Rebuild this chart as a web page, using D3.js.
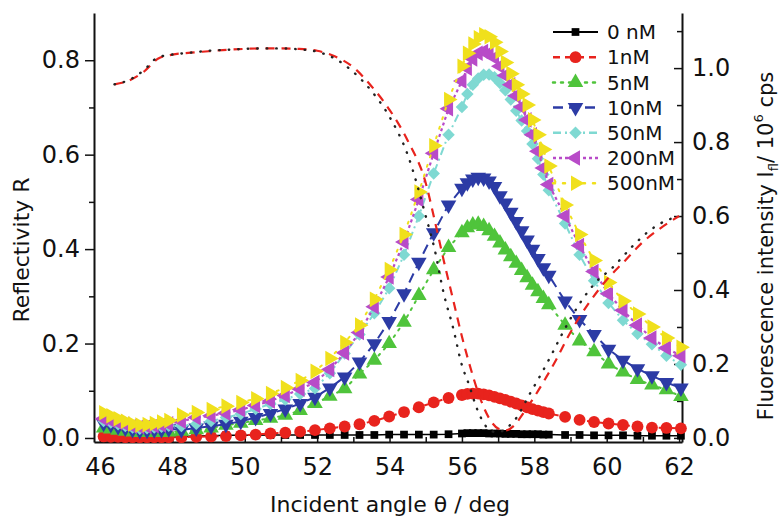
<!DOCTYPE html>
<html>
<head>
<meta charset="utf-8">
<script src="https://cdn.jsdelivr.net/npm/d3@7"></script>
<style>
  body { margin: 0; background: #fff; }
  text { font-family: "DejaVu Sans", "Liberation Sans", Arial, sans-serif; fill: #111; }
</style>
</head>
<body>
<svg id="chart" width="781" height="520"></svg>
<script>
// incident angles of the fluorescence scan (deg)
const angle = [46.1, 46.3, 46.5, 46.7, 46.9, 47.1, 47.3, 47.5, 47.7, 47.9,
  48.25, 48.66, 49.07, 49.48, 49.89, 50.30, 50.71, 51.12, 51.53, 51.94, 52.35, 52.76, 53.17, 53.58, 53.99, 54.40, 54.81, 55.22, 55.63,
  56.0, 56.15, 56.3, 56.45, 56.6, 56.75, 56.9, 57.05, 57.2, 57.35, 57.5, 57.65, 57.8, 57.95, 58.1, 58.25, 58.4,
  58.85, 59.25, 59.65, 60.05, 60.45, 60.85, 61.25, 61.65, 62.05];

// fluorescence intensity, 10^6 cps (right axis)
const fl0nM = [0.001, 0.001, 0.001, 0.001, 0.001, 0.001, 0.001, 0.001, 0.001, 0.001,
  0.004, 0.005, 0.006, 0.007, 0.007, 0.007, 0.008, 0.008, 0.008, 0.008, 0.008, 0.008, 0.008, 0.008, 0.009, 0.009, 0.009, 0.009, 0.01,
  0.012, 0.013, 0.013, 0.013, 0.013, 0.012, 0.012, 0.012, 0.011, 0.011, 0.011, 0.01, 0.01, 0.01, 0.01, 0.009, 0.009,
  0.008, 0.008, 0.007, 0.007, 0.007, 0.006, 0.006, 0.006, 0.006];
const fl1nM = [0.004, 0.003, 0.003, 0.002, 0.002, 0.002, 0.002, 0.002, 0.002, 0.002,
  0.002, 0.003, 0.004, 0.005, 0.007, 0.009, 0.012, 0.014, 0.017, 0.021, 0.026, 0.031, 0.037, 0.046, 0.058, 0.07, 0.083, 0.096, 0.108,
  0.116, 0.119, 0.12, 0.12, 0.118, 0.115, 0.111, 0.107, 0.103, 0.098, 0.093, 0.088, 0.083, 0.078, 0.074, 0.07, 0.066,
  0.057, 0.049, 0.043, 0.039, 0.035, 0.031, 0.028, 0.027, 0.026];
const fl5nM = [0.027, 0.024, 0.021, 0.018, 0.016, 0.015, 0.015, 0.015, 0.015, 0.016,
  0.018, 0.022, 0.027, 0.034, 0.04, 0.047, 0.053, 0.061, 0.074, 0.093, 0.113, 0.133, 0.173, 0.21, 0.255, 0.313, 0.385, 0.455, 0.515,
  0.555, 0.568, 0.576, 0.578, 0.572, 0.56, 0.545, 0.527, 0.508, 0.49, 0.472, 0.453, 0.433, 0.413, 0.395, 0.377, 0.36,
  0.305, 0.262, 0.233, 0.2, 0.178, 0.158, 0.143, 0.13, 0.112];
const fl10nM = [0.04, 0.036, 0.031, 0.027, 0.023, 0.02, 0.021, 0.022, 0.023, 0.025,
  0.022, 0.027, 0.032, 0.037, 0.045, 0.055, 0.066, 0.078, 0.093, 0.11, 0.135, 0.165, 0.205, 0.255, 0.315, 0.39, 0.475, 0.555, 0.63,
  0.675, 0.69, 0.70, 0.705, 0.703, 0.695, 0.68, 0.655, 0.635, 0.61, 0.585, 0.56, 0.535, 0.51, 0.485, 0.46, 0.44,
  0.37, 0.32, 0.28, 0.24, 0.21, 0.187, 0.168, 0.15, 0.135];
const fl50nM = [0.046, 0.042, 0.037, 0.032, 0.028, 0.025, 0.026, 0.028, 0.03, 0.033,
  0.032, 0.038, 0.046, 0.055, 0.065, 0.078, 0.092, 0.104, 0.119, 0.134, 0.175, 0.228, 0.28, 0.337, 0.405, 0.495, 0.6, 0.715, 0.82,
  0.895, 0.93, 0.955, 0.972, 0.982, 0.983, 0.975, 0.96, 0.94, 0.915, 0.885, 0.858, 0.83, 0.795, 0.755, 0.712, 0.67,
  0.58, 0.495, 0.425, 0.365, 0.318, 0.282, 0.253, 0.222, 0.198];
const fl200nM = [0.052, 0.047, 0.042, 0.037, 0.032, 0.03, 0.031, 0.033, 0.035, 0.038,
  0.045, 0.055, 0.06, 0.067, 0.076, 0.088, 0.1, 0.115, 0.132, 0.15, 0.185, 0.23, 0.285, 0.355, 0.435, 0.53, 0.645, 0.77, 0.89,
  0.965, 1.0, 1.025, 1.04, 1.045, 1.04, 1.028, 1.005, 0.98, 0.955, 0.925, 0.895, 0.86, 0.82, 0.775, 0.73, 0.685,
  0.6, 0.52, 0.45, 0.39, 0.345, 0.305, 0.27, 0.243, 0.222];
const fl500nM = [0.068, 0.06, 0.052, 0.045, 0.038, 0.035, 0.036, 0.039, 0.043, 0.047,
  0.062, 0.069, 0.077, 0.086, 0.096, 0.106, 0.12, 0.136, 0.155, 0.18, 0.215, 0.258, 0.305, 0.375, 0.455, 0.55, 0.665, 0.79, 0.915,
  1.005, 1.04, 1.065, 1.082, 1.09, 1.085, 1.07, 1.045, 1.015, 0.985, 0.955, 0.93, 0.9, 0.86, 0.82, 0.78, 0.735,
  0.63, 0.55, 0.48, 0.42, 0.37, 0.335, 0.30, 0.27, 0.245];

// reflectivity curves (left axis)
const reflAngleRed = [46.4, 46.8, 47.2, 47.6, 48.0, 48.5, 49.0, 49.5, 50.0, 50.5, 51.0, 51.5, 52.0, 52.5, 53.0, 53.5, 54.0, 54.5, 55.0, 55.25,
  55.5, 55.75, 56.0, 56.25, 56.5, 56.75, 57.0, 57.2, 57.45, 57.7, 58.0, 58.3, 58.6, 58.9, 59.2, 59.5, 60.0, 60.5, 61.0, 61.5, 62.0];
const reflRed = [0.749, 0.757, 0.775, 0.803, 0.812, 0.816, 0.819, 0.822, 0.824, 0.825, 0.825, 0.824, 0.82, 0.808, 0.785, 0.745, 0.695, 0.63, 0.54, 0.46,
  0.375, 0.295, 0.215, 0.145, 0.085, 0.042, 0.02, 0.016, 0.027, 0.053, 0.087, 0.125, 0.165, 0.21, 0.25, 0.285, 0.335, 0.375, 0.415, 0.445, 0.47];
const reflAngleBlack = [46.4, 46.8, 47.2, 47.6, 48.0, 48.5, 49.0, 49.5, 50.0, 50.5, 51.0, 51.5, 52.0, 52.5, 53.0, 53.5, 54.0, 54.5, 55.0, 55.25,
  55.5, 55.75, 56.0, 56.2, 56.4, 56.6, 56.8, 57.0, 57.25, 57.5, 57.85, 58.2, 58.5, 58.8, 59.3, 59.7, 60.15, 60.7, 61.1, 61.5, 62.0];
const reflBlack = [0.749, 0.758, 0.778, 0.806, 0.812, 0.816, 0.82, 0.822, 0.824, 0.825, 0.825, 0.823, 0.818, 0.803, 0.775, 0.735, 0.68, 0.6, 0.47, 0.398,
  0.305, 0.235, 0.154, 0.112, 0.065, 0.032, 0.015, 0.012, 0.022, 0.042, 0.09, 0.137, 0.18, 0.225, 0.29, 0.33, 0.36, 0.405, 0.434, 0.455, 0.47];

const seriesNames = ["0 nM", "1nM", "5nM", "10nM", "50nM", "200nM", "500nM"];
const xTicks = [46, 48, 50, 52, 54, 56, 58, 60, 62];
const leftTicks = [0.0, 0.2, 0.4, 0.6, 0.8];
const rightTicks = [0.0, 0.2, 0.4, 0.6, 0.8, 1.0];

//plot frame
const dims = { left: 94, right: 682, top: 13, bottom: 442 };

const svg = d3.select("#chart");

const xScale = d3.scaleLinear().domain([45.835, 62.08]).range([dims.left, dims.right]);
const yLeft = d3.scaleLinear().domain([-0.0085, 0.9]).range([dims.bottom, dims.top]);
const yRight = d3.scaleLinear().domain([-0.011, 1.149]).range([dims.bottom, dims.top]);

// styles per series
const series = [
  { values: fl0nM, color: "#000000", symbol: d3.symbolSquare, size: 60, rot: 0, dash: null, width: 1.5 },
  { values: fl1nM, color: "#e8231d", symbol: d3.symbolCircle, size: 110, rot: 0, dash: "7,5", width: 2 },
  { values: fl5nM, color: "#4fc43b", symbol: d3.symbolTriangle, size: 105, rot: 0, dash: "2,6", width: 2 },
  { values: fl10nM, color: "#2c3ba5", symbol: d3.symbolTriangle, size: 105, rot: 180, dash: "10,6", width: 2 },
  { values: fl50nM, color: "#7fd9d2", symbol: d3.symbolSquare, size: 78, rot: 45, dash: "8,4,2,4", width: 2 },
  { values: fl200nM, color: "#b84bc8", symbol: d3.symbolTriangle, size: 105, rot: -90, dash: "3,3", width: 2.2 },
  { values: fl500nM, color: "#f0e01c", symbol: d3.symbolTriangle, size: 105, rot: 90, dash: "2,8", width: 2 },
];

//axes
const gLeft = svg.append("g").attr("transform", "translate(" + dims.left + ",0)");
gLeft.call(d3.axisLeft(yLeft).tickValues(leftTicks).tickFormat(d3.format(".1f")).tickSize(9).tickSizeOuter(0).tickPadding(5));
gLeft.append("g").call(d3.axisLeft(yLeft).tickValues([0.1, 0.3, 0.5, 0.7]).tickFormat("").tickSize(5))
  .select(".domain").remove();

const gRight = svg.append("g").attr("transform", "translate(" + dims.right + ",0)");
gRight.call(d3.axisRight(yRight).tickValues(rightTicks).tickFormat(d3.format(".1f")).tickSize(-8).tickSizeOuter(0).tickPadding(10));
gRight.append("g").call(d3.axisRight(yRight).tickValues([0.1, 0.3, 0.5, 0.7, 0.9, 1.1]).tickFormat("").tickSize(-5))
  .select(".domain").remove();

const gBottom = svg.append("g").attr("transform", "translate(0," + dims.bottom + ")");
gBottom.call(d3.axisBottom(xScale).tickValues(xTicks).tickFormat(d3.format("d")).tickSize(-8).tickSizeOuter(0).tickPadding(16));
gBottom.append("g").call(d3.axisBottom(xScale).tickValues([47, 49, 51, 53, 55, 57, 59, 61]).tickFormat("").tickSize(-5))
  .select(".domain").remove();

svg.selectAll(".domain").attr("stroke", "#111").attr("stroke-width", 2);
svg.selectAll(".tick line").attr("stroke", "#111").attr("stroke-width", 1.5);
svg.selectAll(".tick text").style("font-size", "24px").attr("fill", "#111");

// axis titles
svg.append("text")
  .attr("transform", "translate(29,250) rotate(-90)")
  .attr("text-anchor", "middle")
  .style("font-size", "22px")
  .text("Reflectivity R");

svg.append("text")
  .attr("x", 390).attr("y", 512)
  .attr("text-anchor", "middle")
  .style("font-size", "22px")
  .text("Incident angle \u03b8  / deg");

const rt = svg.append("text")
  .attr("transform", "translate(773,246) rotate(-90)")
  .attr("text-anchor", "middle")
  .style("font-size", "21px");
rt.append("tspan").text("Fluorescence intensity I");
rt.append("tspan").attr("dy", 5).style("font-size", "13px").text("fl");
rt.append("tspan").attr("dy", -5).text("/ 10");
rt.append("tspan").attr("dy", -10).style("font-size", "13px").text("6");
rt.append("tspan").attr("dy", 10).text(" cps");

// fluorescence series
const plot = svg.append("g");
series.forEach(function (s) {
  const pts = angle.map((a, i) => [a, s.values[i]]);
  const line = d3.line().x(d => xScale(d[0])).y(d => yRight(d[1]));
  plot.append("path")
    .attr("d", line(pts))
    .attr("fill", "none")
    .attr("stroke", s.color)
    .attr("stroke-width", s.width)
    .attr("stroke-dasharray", s.dash)
    .attr("stroke-linecap", s.dash && s.dash.startsWith("2") ? "round" : "butt");
  const sym = d3.symbol().type(s.symbol).size(s.size);
  plot.selectAll(null)
    .data(pts)
    .enter()
    .append("path")
    .attr("d", sym)
    .attr("transform", d => "translate(" + xScale(d[0]) + "," + yRight(d[1]) + ") rotate(" + s.rot + ")")
    .attr("fill", s.color);
});

// reflectivity curves
const rLine = d3.line().curve(d3.curveMonotoneX).x(d => xScale(d[0])).y(d => yLeft(d[1]));
svg.append("path")
  .attr("d", rLine(reflAngleRed.map((a, i) => [a, reflRed[i]])))
  .attr("fill", "none")
  .attr("stroke", "#e8231d")
  .attr("stroke-width", 2.2)
  .attr("stroke-dasharray", "9,7");
svg.append("path")
  .attr("d", rLine(reflAngleBlack.map((a, i) => [a, reflBlack[i]])))
  .attr("fill", "none")
  .attr("stroke", "#222")
  .attr("stroke-width", 2.4)
  .attr("stroke-linecap", "round")
  .attr("stroke-dasharray", "0.5,9");

// legend
const legend = svg.append("g");
series.forEach(function (s, i) {
  const cy = 32 + i * 25.2;
  legend.append("line")
    .attr("x1", 553).attr("x2", 598).attr("y1", cy).attr("y2", cy)
    .attr("stroke", s.color)
    .attr("stroke-width", s.width + 0.5)
    .attr("stroke-dasharray", s.dash)
    .attr("stroke-linecap", s.dash && s.dash.startsWith("2") ? "round" : "butt");
  legend.append("path")
    .attr("d", d3.symbol().type(s.symbol).size(s.size)())
    .attr("transform", "translate(575.5," + cy + ") rotate(" + s.rot + ")")
    .attr("fill", s.color);
  legend.append("text")
    .attr("x", 607).attr("y", cy).attr("dy", "0.36em")
    .style("font-size", "20px")
    .text(seriesNames[i]);
});
</script>
</body>
</html>
